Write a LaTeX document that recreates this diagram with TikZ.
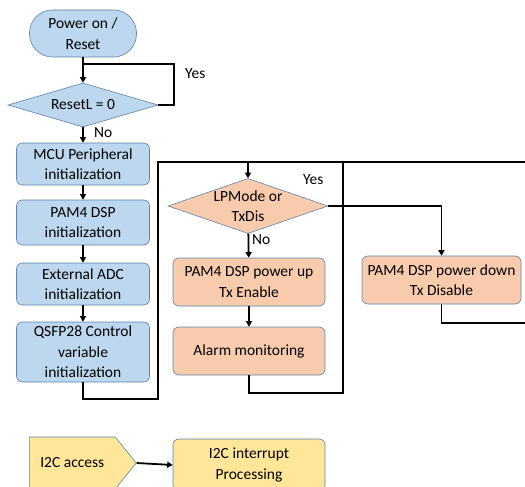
\documentclass[tikz,border=0pt]{standalone}
\usepackage{fontspec}
\setmainfont{Carlito}
\usetikzlibrary{shapes.geometric,shapes.symbols,arrows.meta}
\definecolor{boxline}{HTML}{5B82AD}
\definecolor{bluefill}{HTML}{BDD7EE}
\definecolor{orangefill}{HTML}{F8CBAD}
\definecolor{yellowfill}{HTML}{FFE699}
\begin{document}
\begin{tikzpicture}[x=1pt,y=-1pt,
	txt/.style={font=\fontsize{15.5}{20.5}\selectfont, align=center, inner sep=0pt},
	procbox/.style={txt, draw=boxline, line width=0.6pt, rounded corners=6pt},
	decbox/.style={txt, draw=boxline, line width=0.6pt, diamond},
	flow/.style={line width=1.8pt},
	flowarr/.style={flow, -{Triangle[width=6pt,length=5.5pt]}}]
		\useasboundingbox (0,0) rectangle (525,487);
		\clip (0,0) rectangle (525,487);
		
		\node[procbox, fill=bluefill, rounded corners=23pt, minimum width=107pt, minimum height=47pt] (start) at (83,33.5) {Power on /\\Reset};
		\node[decbox, fill=bluefill, aspect=3.4, minimum width=150pt, minimum height=44pt] (reset) at (83,105) {ResetL = 0};
		\node[procbox, fill=bluefill, minimum width=133pt, minimum height=42pt] (mcu) at (83,164) {MCU Peripheral\\initialization};
		\node[procbox, fill=bluefill, minimum width=133pt, minimum height=45pt] (dsp) at (83,222.5) {PAM4 DSP\\initialization};
		\node[procbox, fill=bluefill, minimum width=133pt, minimum height=42pt] (adc) at (83,284) {External ADC\\initialization};
		\node[procbox, fill=bluefill, minimum width=133pt, minimum height=60pt] (qsfp) at (83,352) {QSFP28 Control\\variable\\initialization};
		
		\node[decbox, fill=orangefill, aspect=2.9, minimum width=160pt, minimum height=54pt] (lpmode) at (248,206) {LPMode or\\TxDis};
		\node[procbox, fill=orangefill, minimum width=152pt, minimum height=48pt] (pwrup) at (249,282) {PAM4 DSP power up\\Tx Enable};
		\node[procbox, fill=orangefill, minimum width=152pt, minimum height=48pt] (alarm) at (249,351) {Alarm monitoring};
		\node[procbox, fill=orangefill, minimum width=159pt, minimum height=48pt] (pwrdown) at (441.5,280) {PAM4 DSP power down\\Tx Disable};
		
		\node[txt, draw=boxline, line width=0.6pt, fill=yellowfill, signal, signal to=east, signal pointer angle=102, minimum width=107pt, minimum height=52pt, anchor=west] (i2c) at (29,463) {I2C access};
		\node[procbox, fill=yellowfill, minimum width=152pt, minimum height=52pt] (irq) at (249,465) {I2C interrupt\\Processing};
		
		\node[txt, anchor=west] (yes1) at (185,74) {Yes};
		\node[txt, anchor=west] (no1) at (94,133) {No};
		\node[txt, anchor=west] (yes2) at (303,180) {Yes};
		\node[txt, anchor=west] (no2) at (252,240) {No};
		
		\coordinate (loop1) at (174,64);
		\coordinate (back1) at (158,399);
		\coordinate (top1) at (525,162);
		\coordinate (back2) at (343,393);
		\coordinate (out1) at (525,323);
		
		\draw[flowarr] (start) -- (reset);
		\draw[flow] (reset.east) -| (loop1) -- (start.south |- loop1);
		\draw[flowarr] (reset) -- (mcu);
		\draw[flowarr] (mcu) -- (dsp);
		\draw[flowarr] (dsp) -- (adc);
		\draw[flowarr] (adc) -- (qsfp);
		\draw[flow] (qsfp.south) |- (back1) |- (top1);
		\draw[flowarr] (lpmode.north |- top1) -- (lpmode.north);
		\draw[flowarr] (lpmode) -- (pwrup);
		\draw[flowarr] (pwrup) -- (alarm);
		\draw[flow] (alarm.south) |- (back2) -- (back2 |- top1);
		\draw[flowarr] (lpmode.east) -| (pwrdown.north);
		\draw[flow] (pwrdown.south) |- (out1);
		\draw[flowarr] (i2c.east) -- (irq.west);
		\end{tikzpicture}
\end{document}
